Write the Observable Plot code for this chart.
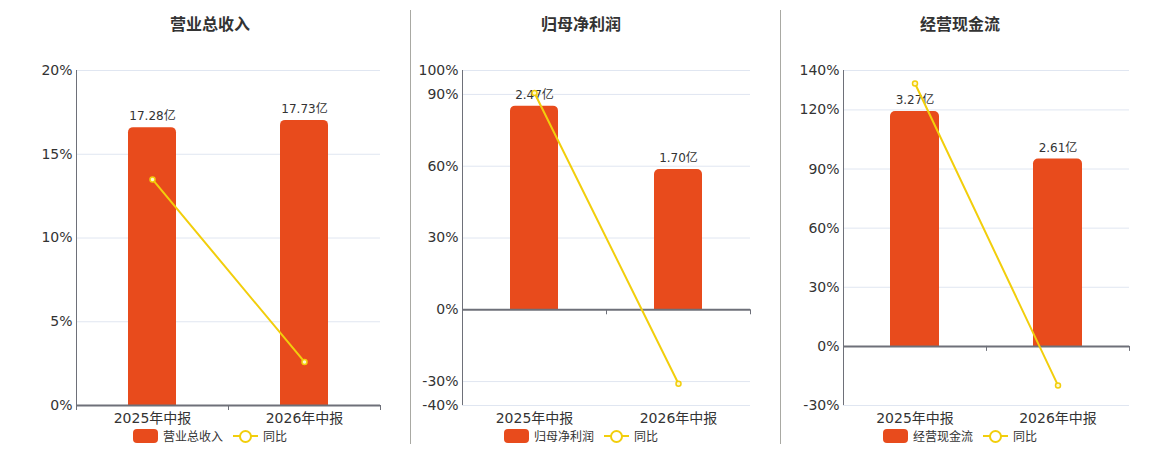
<!DOCTYPE html>
<html><head><meta charset="utf-8">
<script src="https://cdn.jsdelivr.net/npm/d3@7"></script>
<script src="https://cdn.jsdelivr.net/npm/@observablehq/plot@0.6"></script>
<style>
body{margin:0;background:#fff;font-family:"DejaVu Sans","Noto Sans CJK SC",sans-serif;}
#root{position:relative;width:1160px;height:450px;overflow:hidden;}
.title{position:absolute;top:11px;width:300px;text-align:center;font-size:16px;font-weight:bold;color:#333;font-family:"Noto Sans CJK SC","DejaVu Sans",sans-serif;}
.divider{position:absolute;top:10px;height:434px;width:1px;background:#a9a9a3;}
.legend{position:absolute;top:427px;width:300px;display:flex;justify-content:center;align-items:center;font-size:12px;color:#333;font-family:"Noto Sans CJK SC","DejaVu Sans",sans-serif;}
.sw{width:25px;height:14px;border-radius:4px;background:#E84B1C;margin-right:5px;}
.ln{position:relative;width:25px;height:14px;margin:0 5px 0 10px;}
.ln:before{content:"";position:absolute;left:0;right:0;top:6px;height:2px;background:#F2CE0C;}
.ln:after{content:"";position:absolute;left:6px;top:1px;width:9px;height:9px;border:2px solid #F2CE0C;border-radius:50%;background:#fff;}
.panel{position:absolute;top:50px;}
</style></head>
<body><div id="root"></div>
<script>
const categories = ["2025年中报", "2026年中报"];
const titles = ["营业总收入", "归母净利润", "经营现金流"];
const revenue = [17.28, 17.73];
const profit = [2.47, 1.70];
const cashflow = [3.27, 2.61];
const revenueYoY = [13.5, 2.6];
const profitYoY = [90.6, -30.9];
const cashflowYoY = [133.4, -19.8];
const revenueTicks = [0, 5, 10, 15, 20];
const profitTicks = [-40, -30, 0, 30, 60, 90, 100];
const cashflowTicks = [-30, 0, 30, 60, 90, 120, 140];

const RED = "#E84B1C", YEL = "#F2CE0C", AX = "#6e7079", GRID = "#e0e6f1";
const FONT = '"DejaVu Sans","Noto Sans CJK SC",sans-serif';

const panels = [
  {title: titles[0], values: revenue, yoy: revenueYoY, ticks: revenueTicks, left: 20, width: 370, ml: 56, center: 210},
  {title: titles[1], values: profit, yoy: profitYoY, ticks: profitTicks, left: 400, width: 360, ml: 62, center: 581},
  {title: titles[2], values: cashflow, yoy: cashflowYoY, ticks: cashflowTicks, left: 780, width: 359, ml: 63, center: 960}
];

const root = document.getElementById("root");
[410, 780].forEach(x => {
  const d = document.createElement("div"); d.className = "divider"; d.style.left = x + "px"; root.appendChild(d);
});

panels.forEach(p => {
  const mt = 20, mb = 25, mr = 10, ph = 335;
  const height = mt + ph + mb;
  const ymin = d3.min(p.ticks), ymax = d3.max(p.ticks);
  const barMax = d3.max(p.values) * 1.175;
  const rows = categories.map((c, i) => ({
    cat: c, value: p.values[i], yoy: p.yoy[i],
    barY: p.values[i] / barMax * ymax,
    label: p.values[i].toFixed(2) + "亿"
  }));
  const step = (p.width - p.ml - mr) / categories.length;
  const inset = Math.round((step - 49) / 2);
  const tickLen = 5 * (ymax - ymin) / ph;
  const chart = Plot.plot({
    width: p.width, height,
    marginLeft: p.ml, marginRight: mr, marginTop: mt, marginBottom: mb,
    style: {fontSize: "14px", fontFamily: FONT, color: "#333", background: "transparent"},
    x: {type: "band", domain: categories, padding: 0, label: null},
    y: {domain: [ymin, ymax], label: null},
    marks: [
      Plot.ruleY(p.ticks.filter(t => t !== 0), {stroke: GRID, strokeWidth: 1}),
      Plot.axisY({ticks: p.ticks, tickSize: 0, tickPadding: 4, tickFormat: d => d + "%", fill: "#333"}),
      Plot.axisX({tickSize: 0, tickPadding: 8, fill: "#333"}),
      Plot.barY(rows, {x: "cat", y: "barY", fill: RED, insetLeft: inset, insetRight: inset, rx: 5}),
      Plot.barY(rows, {x: "cat", y: d => d.barY / 2, fill: RED, insetLeft: inset, insetRight: inset, shapeRendering: "crispEdges"}),
      Plot.text(rows, {x: "cat", y: "barY", text: "label", dy: -11, fontSize: 12, fill: "#333"}),
      Plot.ruleY([0], {stroke: AX, strokeWidth: 2}),
      Plot.ruleX([categories[0]], {x: d => d, y1: 0, y2: -tickLen, dx: -step / 2, stroke: AX, strokeWidth: 1}),
      Plot.ruleX([categories[0]], {x: d => d, y1: 0, y2: -tickLen, dx: step / 2, stroke: AX, strokeWidth: 1}),
      Plot.ruleX([categories[1]], {x: d => d, y1: 0, y2: -tickLen, dx: step / 2, stroke: AX, strokeWidth: 1}),
      Plot.line(rows, {x: "cat", y: "yoy", stroke: YEL, strokeWidth: 2}),
      Plot.dot(rows, {x: "cat", y: "yoy", r: 2.5, fill: "#fff8cc", stroke: YEL, strokeWidth: 1.5})
    ]
  });
  const panel = document.createElement("div");
  panel.className = "panel";
  panel.style.left = p.left + "px";
  panel.appendChild(chart);
  root.appendChild(panel);
  const svg = d3.select(chart);
  svg.append("line").attr("x1", p.ml + 0.5).attr("x2", p.ml + 0.5).attr("y1", mt).attr("y2", mt + ph)
    .attr("stroke", AX).attr("stroke-width", 1);

  const t = document.createElement("div");
  t.className = "title"; t.textContent = p.title; t.style.left = (p.center - 150) + "px";
  root.appendChild(t);
  const lg = document.createElement("div");
  lg.className = "legend"; lg.style.left = (p.center - 150) + "px";
  lg.innerHTML = '<div class="sw"></div><span>' + p.title + '</span><div class="ln"></div><span>同比</span>';
  root.appendChild(lg);
});
</script></body></html>
